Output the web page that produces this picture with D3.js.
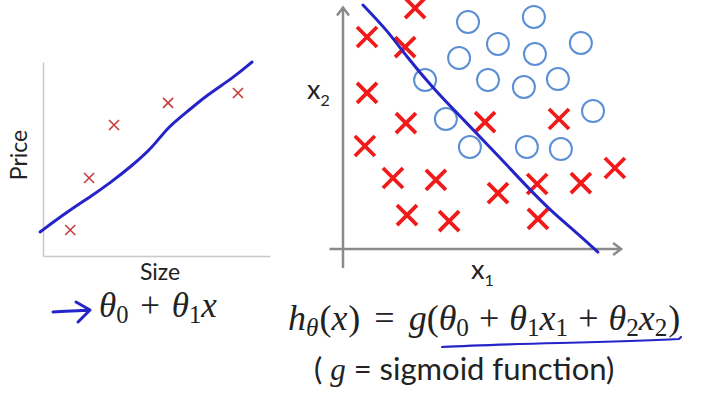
<!DOCTYPE html>
<html>
<head>
<meta charset="utf-8">
<script src="https://cdn.jsdelivr.net/npm/d3@7"></script>
<style>
  body { margin: 0; background: #fff; }
  svg { display: block; }
  .sans { font-family: Lato, "Open Sans", sans-serif; fill: #222; }
  .math { font-family: "Liberation Serif", "DejaVu Serif", serif; fill: #222; }
</style>
</head>
<body>
<svg id="chart" width="701" height="393"></svg>
<script>
// left chart: house price vs size (0..100 both ways)
var houseSize  = [12, 20.3, 31.3, 55.1, 85.9];
var housePrice = [13.4, 40.2, 67.5, 78.9, 84.0];
// hand drawn fit line
var fitX = [-1.3, 10.6, 20.7, 29.5, 39.6, 48.5, 54.6, 63.4, 72.2, 83.7, 92.1];
var fitY = [12.4, 22.7, 30.4, 37.6, 46.9, 56.2, 66.0, 74.2, 83.0, 91.8, 100];

// right chart: two classes over x1, x2
var negX1 = [26.7, 8.9, 23.0, 8.9, 23.3, 8.1, 52.6, 80.0, 100.7, 18.5, 34.4, 57.4, 71.9, 88.1, 23.7, 39.3, 72.2];
var negX2 = [100.8, 88.7, 84.5, 65.3, 52.7, 43.1, 53.1, 54.4, 33.9, 29.7, 28.9, 23.4, 27.2, 27.6, 14.2, 11.7, 12.6];
var posX1 = [46.3, 70.7, 57.4, 71.1, 88.1, 43.0, 30.4, 53.7, 67.0, 79.6, 92.6, 38.1, 47.0, 68.1, 80.7];
var posX2 = [95.0, 97.1, 85.8, 81.6, 86.2, 79.9, 70.7, 70.7, 67.8, 71.1, 57.7, 54.4, 42.7, 42.7, 41.8];
// hand drawn decision boundary
var bndX1 = [7.4, 16.3, 23.7, 33.3, 42.2, 51.9, 60.7, 69.3, 77.8, 86.7, 94.4];
var bndX2 = [102.1, 91.6, 80.3, 67.4, 56.9, 45.6, 35.1, 24.7, 15.1, 6.7, -1.3];

var blue = '#2424c8';
var svg = d3.select('#chart');

function zip(a, b) { return a.map(function(v, i) { return [v, b[i]]; }); }

function cross(g, x, y, s) {
    g.append('path').attr('d', 'M' + (x - s) + ',' + (y - s) + 'L' + (x + s) + ',' + (y + s) +
        'M' + (x - s) + ',' + (y + s) + 'L' + (x + s) + ',' + (y - s));
}

/* Left chart */
var lx = d3.scaleLinear().domain([0, 100]).range([43, 270]);
var ly = d3.scaleLinear().domain([0, 100]).range([256, 62]);

var left = svg.append('g');
left.append('g').attr('transform', 'translate(0,' + ly(0) + ')')
    .call(d3.axisBottom(lx).tickValues([]).tickSizeOuter(0))
    .select('.domain').attr('stroke', '#c8c8c8').attr('stroke-width', 1.5);
left.append('g').attr('transform', 'translate(' + lx(0) + ',0)')
    .call(d3.axisLeft(ly).tickValues([]).tickSizeOuter(0))
    .select('.domain').attr('stroke', '#c8c8c8').attr('stroke-width', 1.5);

var lc = left.append('g').attr('stroke', '#c83a3a').attr('stroke-width', 1.6).attr('fill', 'none');
zip(houseSize, housePrice).forEach(function(d) { cross(lc, lx(d[0]), ly(d[1]), 5); });

left.append('path')
    .datum(zip(fitX, fitY))
    .attr('d', d3.line().x(function(d) { return lx(d[0]); }).y(function(d) { return ly(d[1]); }).curve(d3.curveBasis))
    .attr('fill', 'none').attr('stroke', blue).attr('stroke-width', 3).attr('stroke-linecap', 'round');

left.append('text').attr('class', 'sans').attr('font-size', 23)
    .attr('text-anchor', 'middle').attr('x', 160).attr('y', 280).text('Size');
left.append('text').attr('class', 'sans').attr('font-size', 23)
    .attr('text-anchor', 'middle').attr('transform', 'translate(27,155) rotate(-90)').text('Price');

/* Right chart */
var rx = d3.scaleLinear().domain([0, 100]).range([343, 613]);
var ry = d3.scaleLinear().domain([0, 100]).range([249, 10]);

var right = svg.append('g');
var ax = right.append('g').attr('stroke', '#8a8a8a').attr('stroke-width', 2.5).attr('fill', 'none');
ax.append('line').attr('x1', rx(-5)).attr('x2', rx(103)).attr('y1', ry(0)).attr('y2', ry(0));
ax.append('line').attr('x1', rx(0)).attr('x2', rx(0)).attr('y1', ry(-8)).attr('y2', ry(101));
ax.append('path').attr('d', 'M' + (rx(103) - 8) + ',' + (ry(0) - 6) + 'L' + rx(103) + ',' + ry(0) + 'L' + (rx(103) - 8) + ',' + (ry(0) + 6));
ax.append('path').attr('d', 'M' + (rx(0) - 6) + ',' + (ry(101) + 8) + 'L' + rx(0) + ',' + ry(101) + 'L' + (rx(0) + 6) + ',' + (ry(101) + 8));

right.append('g').attr('fill', 'none').attr('stroke', '#5b8fd5').attr('stroke-width', 2)
    .selectAll('circle').data(zip(posX1, posX2)).enter().append('circle')
    .attr('cx', function(d) { return rx(d[0]); })
    .attr('cy', function(d) { return ry(d[1]); })
    .attr('r', 11);

var rc = right.append('g').attr('stroke', '#f01a1a').attr('stroke-width', 3.8).attr('fill', 'none');
zip(negX1, negX2).forEach(function(d) { cross(rc, rx(d[0]), ry(d[1]), 10); });

right.append('path')
    .datum(zip(bndX1, bndX2))
    .attr('d', d3.line().x(function(d) { return rx(d[0]); }).y(function(d) { return ry(d[1]); }).curve(d3.curveBasis))
    .attr('fill', 'none').attr('stroke', blue).attr('stroke-width', 3).attr('stroke-linecap', 'round');

var x2 = right.append('text').attr('class', 'sans').attr('font-size', 27).attr('x', 307).attr('y', 99);
x2.append('tspan').text('x');
x2.append('tspan').attr('font-size', 16).attr('dy', 7).text('2');
var x1 = right.append('text').attr('class', 'sans').attr('font-size', 27).attr('x', 471).attr('y', 279);
x1.append('tspan').text('x');
x1.append('tspan').attr('font-size', 16).attr('dy', 7).text('1');

/* Formulas */
// parts: [text, kind, dy, dx]
function formula(g, x, y, size, parts) {
    var t = g.append('text').attr('class', 'math').attr('font-size', size).attr('x', x).attr('y', y);
    parts.forEach(function(p) {
        var s = t.append('tspan').text(p[0]);
        if (p[1] === 'i') s.attr('font-style', 'italic');
        if (p[1] === 'sub' || p[1] === 'isub') s.attr('font-size', size * 0.7).attr('dy', size * 0.16);
        if (p[1] === 'isub') s.attr('font-style', 'italic');
        if (p[2]) s.attr('dy', p[2]);
        if (p[3]) s.attr('dx', p[3]);
    });
    return t;
}

var fl = 35, sl = fl * 0.16;
formula(svg, 99, 317, fl, [
    ['θ', 'i'], ['0', 'sub'], [' + ', '', -sl, 3], ['θ', 'i', 0, 3], ['1', 'sub'], ['x', 'i', -sl]
]);
svg.append('path')
    .attr('d', 'M53,312 C65,311 78,311 90,310 M76,302 L90,310 L78,322')
    .attr('fill', 'none').attr('stroke', blue).attr('stroke-width', 3)
    .attr('stroke-linecap', 'round').attr('stroke-linejoin', 'round');

var fs = 36, sd = fs * 0.16, op = 10;
formula(svg, 288, 330, fs, [
    ['h', 'i'], ['θ', 'isub'], ['(', '', -sd, 1], ['x', 'i'], [')', '', 0, 1], ['=', '', 0, op + 4], ['g', 'i', 0, op + 4], ['(', ''],
    ['θ', 'i'], ['0', 'sub'], ['+', '', -sd, op], ['θ', 'i', 0, op], ['1', 'sub'], ['x', 'i', -sd], ['1', 'sub'],
    ['+', '', -sd, op], ['θ', 'i', 0, op], ['2', 'sub'], ['x', 'i', -sd], ['2', 'sub'], [')', '', -sd, 1]
]);
svg.append('path')
    .attr('d', 'M442,347 C480,345 520,344 560,343 C600,342 640,341 679,339 L681,337')
    .attr('fill', 'none').attr('stroke', blue).attr('stroke-width', 2.2).attr('stroke-linecap', 'round');

var sig = svg.append('text').attr('class', 'sans').attr('font-size', 31).attr('x', 314).attr('y', 380);
sig.append('tspan').text('( ');
sig.append('tspan').attr('class', 'math').attr('font-style', 'italic').attr('font-size', 31).text('g');
sig.append('tspan').text(' = sigmoid function)');
</script>
</body>
</html>
